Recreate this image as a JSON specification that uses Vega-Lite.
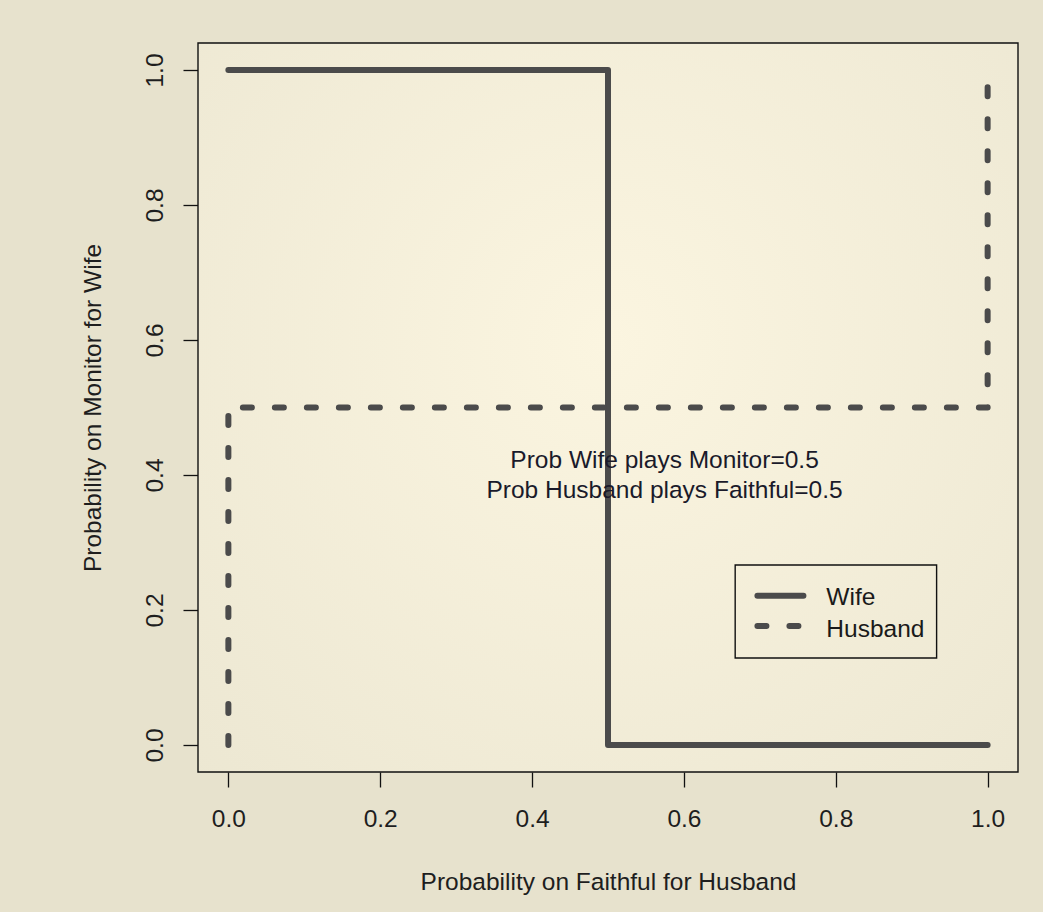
{
  "$schema": "https://vega.github.io/schema/vega-lite/v6.json",
  "width": 820,
  "height": 729,
  "autosize": "none",
  "padding": {"left": 198, "top": 43, "right": 25, "bottom": 140},
  "background": "#e7e2cd",
  "config": {
    "view": {"stroke": null},
    "font": "Liberation Sans",
    "axis": {
      "domain": false,
      "grid": false,
      "tickColor": "#111",
      "tickWidth": 1.3,
      "tickSize": 15,
      "labelFont": "Liberation Sans",
      "labelFontSize": 24.5,
      "labelColor": "#1e1e1e",
      "titleFont": "Liberation Sans",
      "titleFontSize": 24.5,
      "titleFontWeight": "normal",
      "titleColor": "#1e1e1e"
    }
  },
  "datasets": {
    "bg": [{"k": 1}],
    "curves": [
      {"series": "Wife", "i": 1, "x": 0, "y": 1},
      {"series": "Wife", "i": 2, "x": 0.5, "y": 1},
      {"series": "Wife", "i": 3, "x": 0.5, "y": 0},
      {"series": "Wife", "i": 4, "x": 1, "y": 0},
      {"series": "Husband", "i": 1, "x": 0, "y": 0},
      {"series": "Husband", "i": 2, "x": 0, "y": 0.5},
      {"series": "Husband", "i": 3, "x": 1, "y": 0.5},
      {"series": "Husband", "i": 4, "x": 1, "y": 1}
    ],
    "legendBox": [{"x": 0.6675, "x2": 0.9328, "y": 0.2667, "y2": 0.1289}],
    "legendLines": [
      {"series": "Wife", "i": 1, "x": 0.6968, "y": 0.2212},
      {"series": "Wife", "i": 2, "x": 0.7574, "y": 0.2212},
      {"series": "Husband", "i": 1, "x": 0.6968, "y": 0.1763},
      {"series": "Husband", "i": 2, "x": 0.7574, "y": 0.1763}
    ],
    "legendText": [
      {"x": 0.7876, "y": 0.2074, "label": "Wife"},
      {"x": 0.7876, "y": 0.16, "label": "Husband"}
    ],
    "notes": [
      {"x": 0.5745, "y": 0.4104, "label": "Prob Wife plays Monitor=0.5"},
      {"x": 0.5745, "y": 0.3659, "label": "Prob Husband plays Faithful=0.5"}
    ]
  },
  "layer": [
    {
      "data": {"name": "bg"},
      "mark": {
        "type": "rect",
        "stroke": "#111",
        "strokeWidth": 1.4,
        "fill": {
          "gradient": "radial",
          "x1": 0.5, "y1": 0.42, "r1": 0,
          "x2": 0.5, "y2": 0.42, "r2": 0.8,
          "stops": [
            {"offset": 0, "color": "#fbf5e0"},
            {"offset": 1, "color": "#ebe6d1"}
          ]
        }
      }
    },
    {
      "data": {"name": "curves"},
      "mark": {"type": "line", "strokeWidth": 6, "strokeCap": "round", "strokeJoin": "round", "color": "#4b4b4b"},
      "encoding": {
        "x": {
          "field": "x", "type": "quantitative",
          "scale": {"domain": [-0.04, 1.04], "nice": false, "zero": false},
          "axis": {"title": "Probability on Faithful for Husband", "values": [0, 0.2, 0.4, 0.6, 0.8, 1], "format": ".1f", "labelPadding": 20, "titlePadding": 40}
        },
        "y": {
          "field": "y", "type": "quantitative",
          "scale": {"domain": [-0.04, 1.04], "nice": false, "zero": false},
          "axis": {"title": "Probability on Monitor for Wife", "values": [0, 0.2, 0.4, 0.6, 0.8, 1], "format": ".1f", "labelAngle": 270, "labelPadding": 16, "titlePadding": 37}
        },
        "detail": {"field": "series"},
        "order": {"field": "i"},
        "strokeDash": {
          "field": "series", "type": "nominal",
          "scale": {"domain": ["Wife", "Husband"], "range": [[1, 0], [9, 23]]},
          "legend": null
        }
      }
    },
    {
      "data": {"name": "legendBox"},
      "mark": {"type": "rect", "fill": "transparent", "stroke": "#111", "strokeWidth": 1.4},
      "encoding": {
        "x": {"field": "x", "type": "quantitative"},
        "x2": {"field": "x2"},
        "y": {"field": "y", "type": "quantitative"},
        "y2": {"field": "y2"}
      }
    },
    {
      "data": {"name": "legendLines"},
      "mark": {"type": "line", "strokeWidth": 6, "strokeCap": "round", "color": "#4b4b4b"},
      "encoding": {
        "x": {"field": "x", "type": "quantitative"},
        "y": {"field": "y", "type": "quantitative"},
        "detail": {"field": "series"},
        "order": {"field": "i"},
        "strokeDash": {"field": "series", "type": "nominal", "legend": null}
      }
    },
    {
      "data": {"name": "legendText"},
      "mark": {"type": "text", "align": "left", "baseline": "alphabetic", "fontSize": 24.5, "font": "Liberation Sans", "color": "#1a1a1a"},
      "encoding": {
        "x": {"field": "x", "type": "quantitative"},
        "y": {"field": "y", "type": "quantitative"},
        "text": {"field": "label"}
      }
    },
    {
      "data": {"name": "notes"},
      "mark": {"type": "text", "align": "center", "baseline": "alphabetic", "fontSize": 24.5, "font": "Liberation Sans", "color": "#1a1a2a"},
      "encoding": {
        "x": {"field": "x", "type": "quantitative"},
        "y": {"field": "y", "type": "quantitative"},
        "text": {"field": "label"}
      }
    }
  ]
}
